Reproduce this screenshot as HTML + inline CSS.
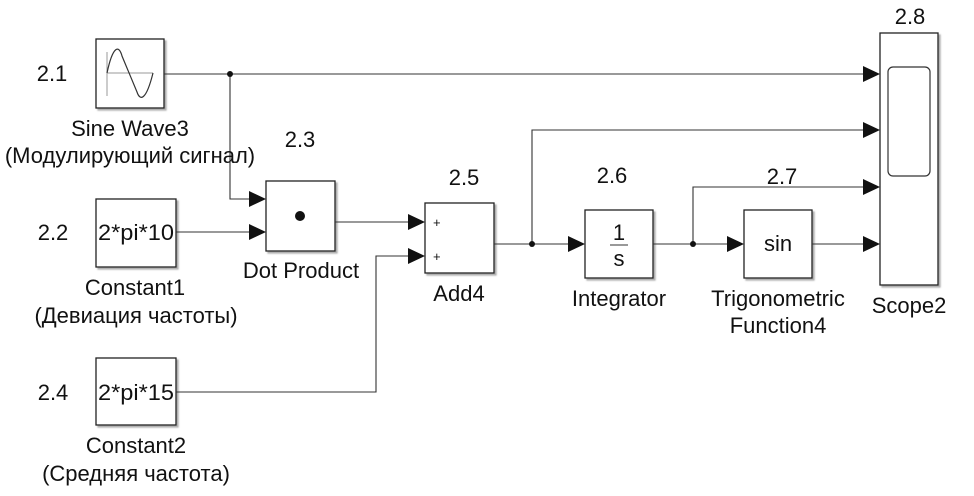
<!DOCTYPE html>
<html><head><meta charset="utf-8"><style>
html,body{margin:0;padding:0;background:#fff;}
svg{display:block;}
text{font-family:"Liberation Sans","DejaVu Sans",sans-serif;font-size:22px;fill:#111;}
</style></head><body>
<svg width="974" height="496" viewBox="0 0 974 496" xmlns="http://www.w3.org/2000/svg">
<defs>
<filter id="sh" x="-10%" y="-10%" width="130%" height="130%"><feDropShadow dx="2" dy="2" stdDeviation="0.8" flood-color="#888" flood-opacity="0.7"/></filter>
</defs>
<g fill="#fff" stroke="#222" stroke-width="1.3" filter="url(#sh)">
<rect x="96" y="39" width="68" height="69"/>
<rect x="96" y="199" width="80" height="68"/>
<rect x="96" y="358" width="80" height="67"/>
<rect x="266" y="181" width="69" height="70"/>
<rect x="425" y="203" width="69" height="70"/>
<rect x="585" y="210" width="68" height="68"/>
<rect x="744" y="210" width="68" height="68"/>
<rect x="880" y="33" width="58" height="252"/>
</g>
<rect x="888" y="67" width="42" height="109" rx="5" fill="none" stroke="#333" stroke-width="1.2"/>
<g stroke="#999" stroke-width="1" fill="none"><line x1="107" y1="73" x2="153" y2="73"/><line x1="107" y1="52" x2="107" y2="96"/></g>
<path d="M107 73 C113 45,119 45,122 56 L137 92 C140 101,146 101,153 73" fill="none" stroke="#333" stroke-width="1.2"/>
<circle cx="300" cy="216" r="5" fill="#111"/>
<text x="433" y="227" style="font-size:13px">+</text>
<text x="433" y="261" style="font-size:13px">+</text>
<text x="619" y="240" text-anchor="middle">1</text>
<line x1="610" y1="245" x2="628" y2="245" stroke="#333" stroke-width="1"/>
<text x="619" y="266" text-anchor="middle">s</text>
<text x="778" y="251" text-anchor="middle">sin</text>
<text x="136" y="240" text-anchor="middle" textLength="76" lengthAdjust="spacingAndGlyphs">2*pi*10</text>
<text x="136" y="400" text-anchor="middle" textLength="76" lengthAdjust="spacingAndGlyphs">2*pi*15</text>
<g stroke="#333" stroke-width="1.1" fill="none">
<polyline points="164,74 865,74"/>
<polyline points="230,74 230,199 250,199"/>
<polyline points="176,232 250,232"/>
<polyline points="335,222 409,222"/>
<polyline points="176,392 376,392 376,256 409,256"/>
<polyline points="494,244 569,244"/>
<polyline points="532,244 532,130 865,130"/>
<polyline points="653,244 728,244"/>
<polyline points="693,244 693,187 865,187"/>
<polyline points="812,244 865,244"/>
</g>
<g fill="#111">
<circle cx="230" cy="74" r="3"/><circle cx="532" cy="244" r="3"/><circle cx="693" cy="244" r="3"/>
<polygon points="249,191 266,199 249,207"/>
<polygon points="249,224 266,232 249,240"/>
<polygon points="408,214 425,222 408,230"/>
<polygon points="408,248 425,256 408,264"/>
<polygon points="568,236 585,244 568,252"/>
<polygon points="727,236 744,244 727,252"/>
<polygon points="863,66 880,74 863,82"/>
<polygon points="863,122 880,130 863,138"/>
<polygon points="863,179 880,187 863,195"/>
<polygon points="863,236 880,244 863,252"/>
</g>
<text x="52" y="81" text-anchor="middle">2.1</text>
<text x="53" y="240" text-anchor="middle">2.2</text>
<text x="53" y="400" text-anchor="middle">2.4</text>
<text x="300" y="147" text-anchor="middle">2.3</text>
<text x="464" y="185" text-anchor="middle">2.5</text>
<text x="612" y="183" text-anchor="middle">2.6</text>
<text x="782" y="184" text-anchor="middle">2.7</text>
<text x="910" y="24" text-anchor="middle">2.8</text>
<text x="130" y="136" text-anchor="middle">Sine Wave3</text>
<text x="130" y="163" text-anchor="middle">(Модулирующий сигнал)</text>
<text x="135" y="295" text-anchor="middle">Constant1</text>
<text x="136" y="323" text-anchor="middle">(Девиация частоты)</text>
<text x="136" y="453" text-anchor="middle">Constant2</text>
<text x="136" y="481" text-anchor="middle">(Средняя частота)</text>
<text x="301" y="278" text-anchor="middle">Dot Product</text>
<text x="459" y="301" text-anchor="middle">Add4</text>
<text x="619" y="306" text-anchor="middle">Integrator</text>
<text x="778" y="306" text-anchor="middle">Trigonometric</text>
<text x="778" y="333" text-anchor="middle">Function4</text>
<text x="909" y="313" text-anchor="middle">Scope2</text>
</svg>
</body></html>
